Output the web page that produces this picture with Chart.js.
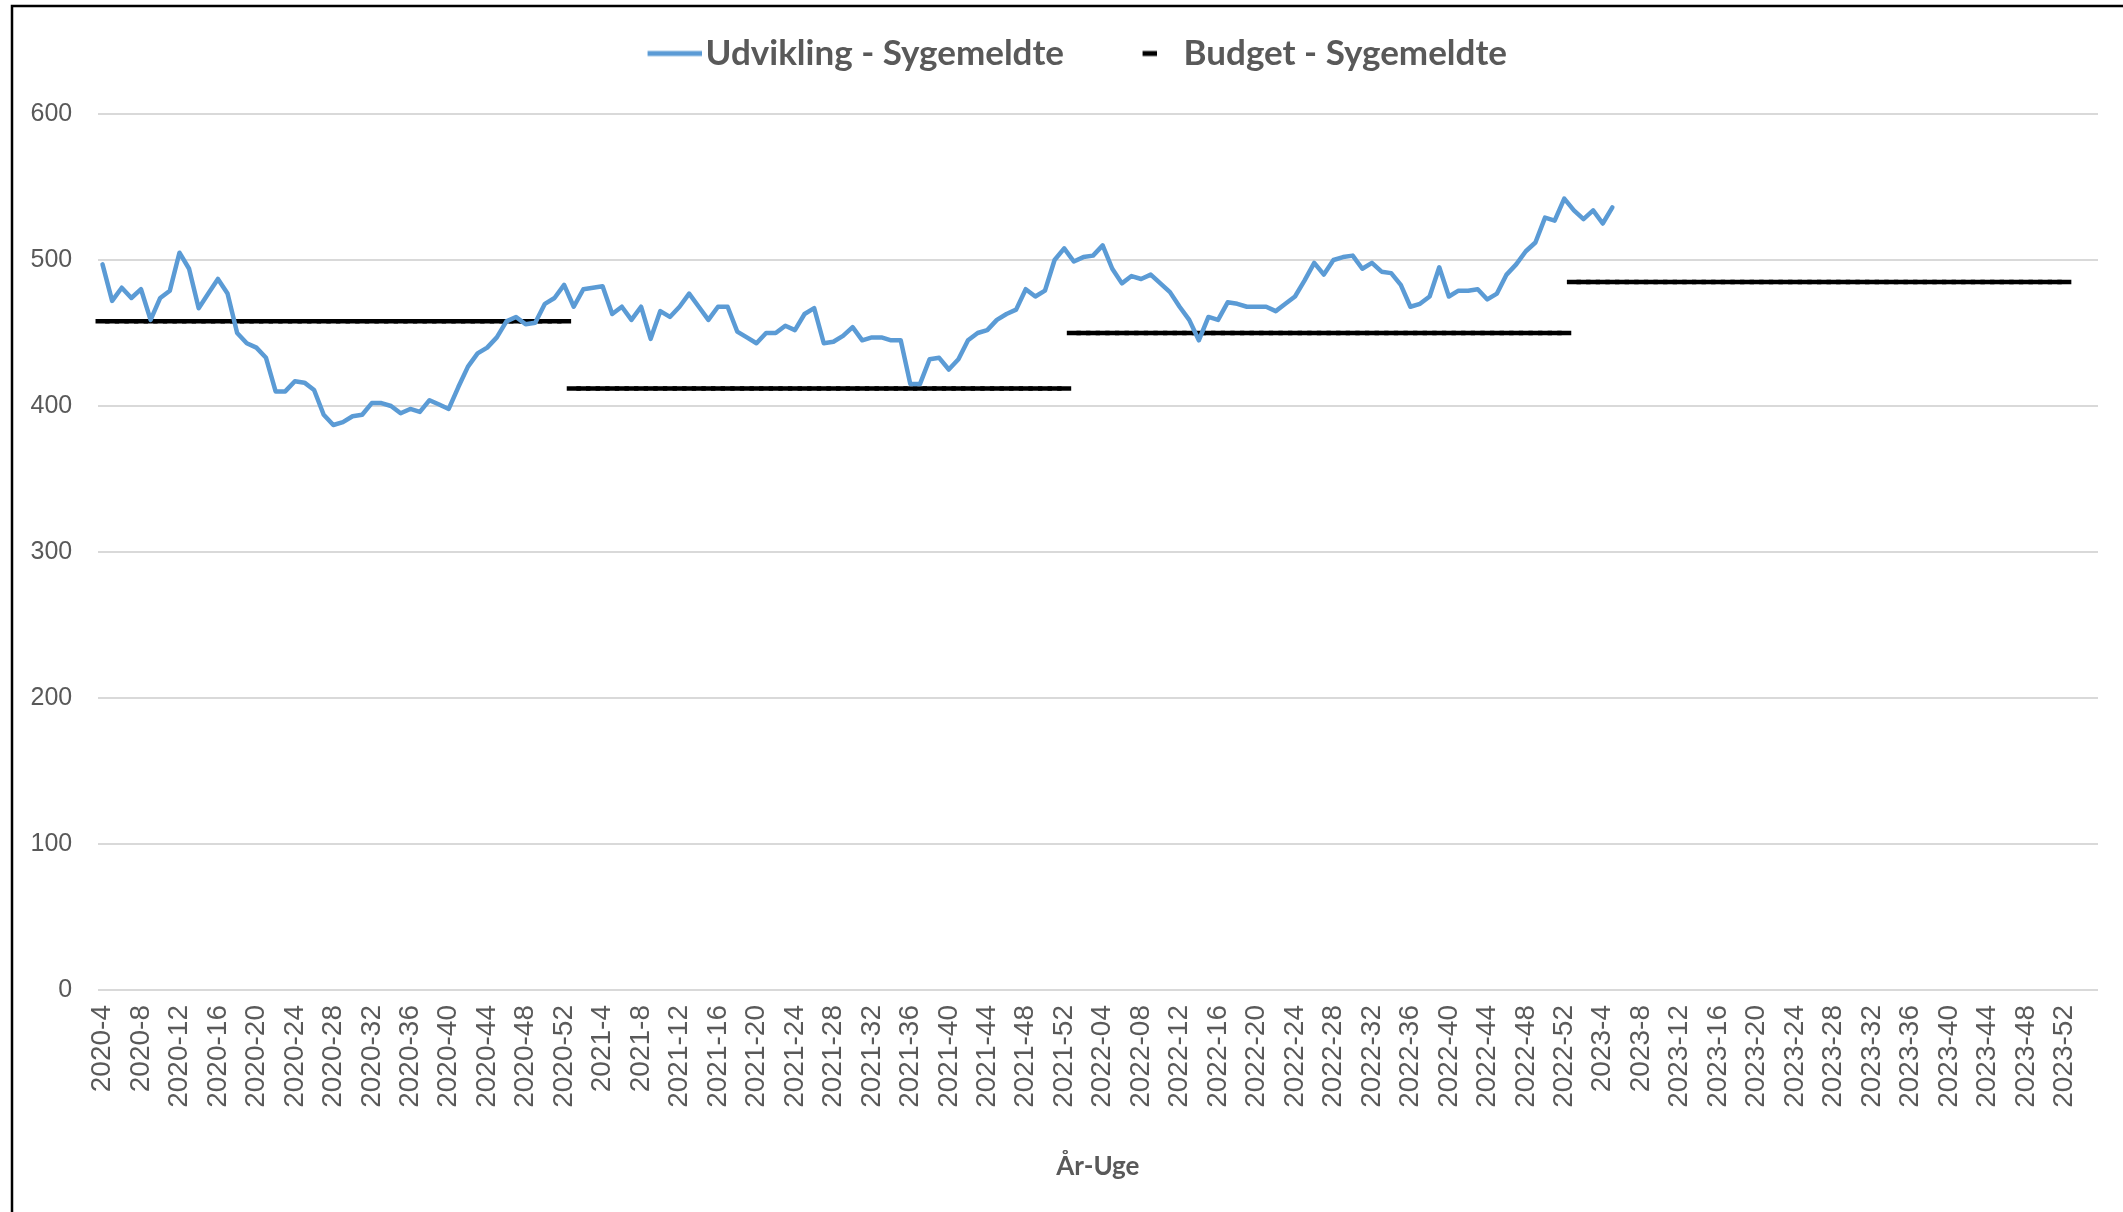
<!DOCTYPE html>
<html>
<head>
<meta charset="utf-8">
<script src="https://cdn.jsdelivr.net/npm/chart.js@4.4.1/dist/chart.umd.min.js"></script>
<style>
  html, body { margin: 0; padding: 0; background: #ffffff; }
  #wrap { width: 2123px; height: 1212px; position: relative; }
  #c { display: block; }
</style>
</head>
<body>
<div id="wrap"><canvas id="c" width="2123" height="1212"></canvas></div>
<script>
// ---------------- DATA ----------------
const years = [2020, 2021, 2022, 2023];
const firstWeek = [4, 1, 1, 1];
const lastWeek = [52, 52, 52, 52];
const zeroPaddedYears = [2022];          // week numbers written as 04, 08 ...
const trailingBlankCategories = 3;       // empty slots after 2023-52
const tickEvery = 4;

const budgetValues = [458, 412, 450, 485];   // Budget - Sygemeldte per year

// Udvikling - Sygemeldte, weekly from 2020-4
const udvikling = [
  497, 472, 481, 474, 480, 459, 474, 479, 505, 494,
  467, 477, 487, 477, 450, 443, 440, 433, 410, 410,
  417, 416, 411, 394, 387, 389, 393, 394, 402, 402,
  400, 395, 398, 396, 404, 401, 398, 413, 427, 436,
  440, 447, 458, 461, 456, 457, 470, 474, 483, 468,
  480, 481, 482, 463, 468, 459, 468, 446, 465, 461,
  468, 477, 468, 459, 468, 468, 451, 447, 443, 450,
  450, 455, 452, 463, 467, 443, 444, 448, 454, 445,
  447, 447, 445, 445, 415, 415, 432, 433, 425, 432,
  445, 450, 452, 459, 463, 466, 480, 475, 479, 500,
  508, 499, 502, 503, 510, 494, 484, 489, 487, 490,
  484, 478, 468, 459, 445, 461, 459, 471, 470, 468,
  468, 468, 465, 470, 475, 486, 498, 490, 500, 502,
  503, 494, 498, 492, 491, 483, 468, 470, 475, 495,
  475, 479, 479, 480, 473, 477, 490, 497, 506, 512,
  529, 527, 542, 534, 528, 534, 525, 536
];

const yMin = 0, yMax = 600, yStep = 100;

// ---------------- CATEGORIES ----------------
const categories = [];
const categoryYear = [];
years.forEach((y, k) => {
  for (let w = firstWeek[k]; w <= lastWeek[k]; w++) {
    const wk = (zeroPaddedYears.includes(y) && w < 10) ? '0' + w : String(w);
    categories.push(y + '-' + wk);
    categoryYear.push(y);
  }
});
for (let i = 0; i < trailingBlankCategories; i++) { categories.push(''); categoryYear.push(null); }

const budgetSeries = categoryYear.map(y => y === null ? null : budgetValues[years.indexOf(y)]);

// ---------------- STYLE HELPERS ----------------
const BLUE = '#5B9BD5';
const GREY_TEXT = '#595959';

function legendSymbol(w, h, x0, x1, thick, color) {
  const c = document.createElement('canvas');
  c.width = w; c.height = h;
  const g = c.getContext('2d');
  g.fillStyle = color;
  g.fillRect(x0, (h - thick) / 2, x1 - x0, thick);
  return c;
}
const legendLine = legendSymbol(99, 12, 45, 99, 5, BLUE);
const legendDash = legendSymbol(53, 12, 39, 53, 5, '#000000');

const framePlugin = {
  id: 'frame',
  beforeDraw(chart) {
    const c = chart.ctx;
    c.save();
    c.fillStyle = '#ffffff';
    c.fillRect(0, 0, chart.width, chart.height);
    c.strokeStyle = '#000000';
    c.lineWidth = 2.5;
    c.beginPath();
    c.moveTo(12, chart.height);
    c.lineTo(12, 6);
    c.lineTo(chart.width, 6);
    c.stroke();
    c.restore();
  }
};

// ---------------- CHART ----------------
new Chart(document.getElementById('c'), {
  type: 'line',
  data: {
    labels: categories,
    datasets: [
      {
        label: 'Udvikling - Sygemeldte',
        data: udvikling,
        borderColor: BLUE,
        backgroundColor: BLUE,
        borderWidth: 4.5,
        pointRadius: 0,
        pointHoverRadius: 0,
        tension: 0,
        fill: false,
        borderJoinStyle: 'round',
        borderCapStyle: 'round'
      },
      {
        label: 'Budget - Sygemeldte',
        data: budgetSeries,
        showLine: false,
        pointStyle: 'line',
        pointRadius: 7,
        pointHoverRadius: 7,
        pointBorderWidth: 4.5,
        pointBorderColor: '#000000',
        pointBackgroundColor: '#000000',
        borderColor: '#000000',
        backgroundColor: '#000000'
      }
    ]
  },
  options: {
    responsive: false,
    maintainAspectRatio: false,
    animation: false,
    devicePixelRatio: 1,
    layout: { padding: { left: 5, right: 5, top: 6, bottom: 11 } },
    plugins: {
      tooltip: { enabled: false },
      title: {
        display: true,
        text: '',
        weight: 500,
        position: 'top',
        padding: { top: 0, bottom: 32 },
        font: { size: 1, lineHeight: 1 }
      },
      legend: {
        display: true,
        position: 'top',
        labels: {
          usePointStyle: true,
          pointStyleWidth: 72,
          padding: 30,
          color: GREY_TEXT,
          font: { family: 'Lato', weight: 'bold', size: 35 },
          generateLabels(chart) {
            const items = Chart.defaults.plugins.legend.labels.generateLabels(chart);
            items.forEach((it, i) => { it.pointStyle = i === 0 ? legendLine : legendDash; });
            return items;
          }
        }
      }
    },
    scales: {
      x: {
        type: 'category',
        offset: true,
        grid: { display: false, drawTicks: false },
        border: { display: false },
        afterFit(scale) { scale.paddingLeft = 0; scale.paddingRight = 25; },
        ticks: {
          autoSkip: false,
          maxRotation: 90,
          minRotation: 90,
          padding: 15,
          color: GREY_TEXT,
          font: { family: 'Liberation Sans', size: 28 },
          callback: function (value, index) {
            return index % tickEvery === 0 ? this.getLabelForValue(value) : '';
          }
        },
        title: {
          display: true,
          text: 'År-Uge',
          color: GREY_TEXT,
          font: { family: 'Lato', weight: 'bold', size: 26, lineHeight: 1.2 },
          padding: { top: 28, bottom: 19 }
        }
      },
      y: {
        min: yMin,
        max: yMax,
        grid: { color: '#d9d9d9', lineWidth: 2, drawTicks: false },
        border: { display: false },
        ticks: {
          stepSize: yStep,
          padding: 25.5,
          color: GREY_TEXT,
          font: { family: 'Liberation Sans', size: 25 }
        }
      }
    }
  },
  plugins: [framePlugin]
});
</script>
</body>
</html>
